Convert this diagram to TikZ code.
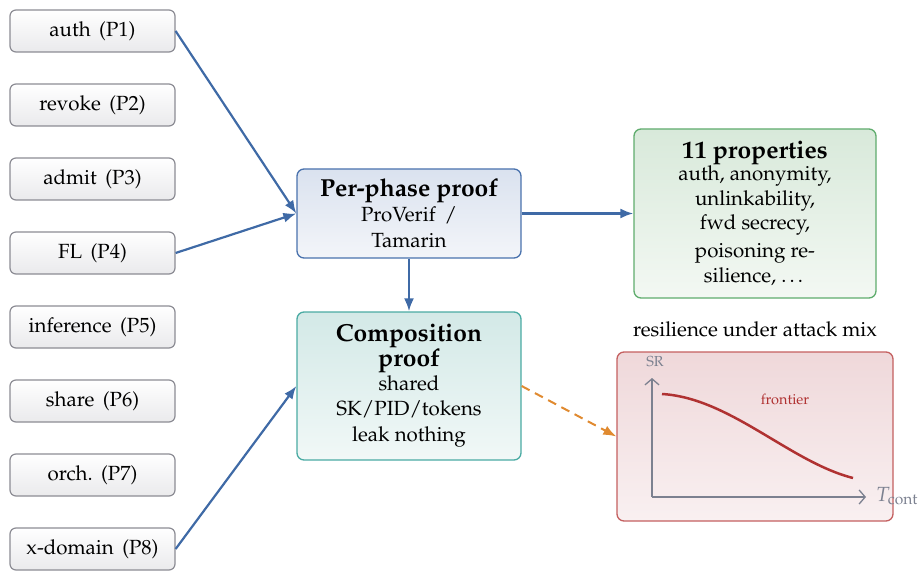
\documentclass[tikz,border=0pt]{standalone}
\usepackage[T1]{fontenc}
\usepackage{mathpazo}
\usetikzlibrary{arrows.meta}
\definecolor{arrblue}{HTML}{3F6AA6}
\definecolor{pgray}{HTML}{8C8C94}
\definecolor{pbot}{HTML}{EAEAEC}
\definecolor{bluedraw}{HTML}{4A72AD}
\definecolor{bluetop}{HTML}{DAE2EF}
\definecolor{bluebot}{HTML}{F3F5F9}
\definecolor{tealdraw}{HTML}{4AABA3}
\definecolor{tealtop}{HTML}{D3E9E7}
\definecolor{tealbot}{HTML}{F1F8F7}
\definecolor{greendraw}{HTML}{5FAC6D}
\definecolor{greentop}{HTML}{D8E9DA}
\definecolor{greenbot}{HTML}{F3F8F3}
\definecolor{reddraw}{HTML}{C46060}
\definecolor{redtop}{HTML}{EFD8DA}
\definecolor{redbot}{HTML}{F9F0F1}
\definecolor{curvered}{HTML}{B03232}
\definecolor{axisgray}{HTML}{7C8190}
\definecolor{dashorange}{HTML}{E08A30}
\newcommand{\normf}{\fontsize{20.5}{24.5}\selectfont}
\newcommand{\widef}{\fontsize{20.5}{24.5}\selectfont\spaceskip=8.5pt plus 2pt minus 1pt\relax}
\newcommand{\titlef}{\fontsize{24.6}{28}\selectfont\bfseries}
\newcommand{\smallf}{\fontsize{14.5}{17}\selectfont}
\begin{document}
\begin{tikzpicture}[x=1pt,y=-1pt,
  pbox/.style={draw=pgray, line width=1.2pt, rounded corners=6pt,
    top color=white, bottom color=pbot, minimum width=165pt, minimum height=42pt,
    inner sep=0pt, font=\widef},
  bigbox/.style={line width=1.3pt, rounded corners=7pt, align=center, inner sep=2pt, font=\normf},
  arr/.style={draw=arrblue, line width=2.2pt, -{Latex[length=13pt,width=10pt]}},
  dasharr/.style={draw=dashorange, line width=2pt, dash pattern=on 9pt off 6pt, -{Latex[length=13pt,width=10pt]}},
  axis/.style={draw=axisgray, line width=1.3pt, -{Straight Barb[length=6pt,width=14pt]}}
]
\useasboundingbox (0,0) rectangle (921,580);

\node[pbox] (p1) at (92.5,31) {auth (P1)};
\node[pbox] (p2) at (92.5,105) {revoke (P2)};
\node[pbox] (p3) at (92.5,179) {admit (P3)};
\node[pbox] (p4) at (92.5,253) {FL (P4)};
\node[pbox] (p5) at (92.5,327) {inference (P5)};
\node[pbox] (p6) at (92.5,401) {share (P6)};
\node[pbox] (p7) at (92.5,475) {orch.\ (P7)};
\node[pbox] (p8) at (92.5,549) {x-domain (P8)};

\node[bigbox, draw=bluedraw, top color=bluetop, bottom color=bluebot,
  minimum width=224pt, minimum height=89pt] (perphase) at (409,213.5)
  {{\titlef Per-phase proof}\\ProVerif\hspace{9pt}/\\[2pt]Tamarin};

\node[bigbox, draw=tealdraw, top color=tealtop, bottom color=tealbot,
  minimum width=224pt, minimum height=148pt] (compo) at (409,386)
  {{\titlef Composition}\\{\titlef proof}\\shared\\SK/PID/tokens\\[2pt]leak nothing};

\node[bigbox, draw=greendraw, top color=greentop, bottom color=greenbot,
  minimum width=242pt, minimum height=169pt] (props) at (755,213.5)
  {{\titlef 11 properties}\\[-2pt]auth, anonymity,\\unlinkability,\\fwd secrecy,\\[3pt]poisoning re-\\[1pt]silience, \dots};

\node[bigbox, draw=reddraw, top color=redtop, bottom color=redbot,
  minimum width=276pt, minimum height=169pt] (resil) at (755,436.5) {};
\node[font=\normf] (resillabel) at (755,329) {resilience under attack mix};

% plot
\coordinate (origin) at (652,497);
\coordinate (ytop) at (652,378);
\coordinate (xend) at (866,497);
\draw[axis] (origin) -- (ytop);
\draw[axis] (origin) -- (xend);
\node[font=\smallf, text=axisgray] (srlabel) at (655,362) {SR};
\node[font=\normf, text=axisgray, anchor=west, inner sep=0pt] (tlabel) at (876,496) {$T_{\mathrm{cont}}$};
\coordinate (cstart) at (662,394);
\coordinate (cend) at (853,478);
\draw[curvered, line width=2.5pt] (cstart) .. controls (730,398) and (790,462) .. (cend);
\node[font=\smallf, text=curvered] (frontier) at (785,399) {frontier};

% connectors
\draw[arr] (p1.east) -- (perphase.west);
\draw[arr] (p4.east) -- (perphase.west);
\draw[arr] (p8.east) -- (compo.west);
\draw[arr] (perphase.south) -- (compo.north);
\draw[arr] (perphase.east) -- (props.west);
\draw[dasharr] (compo.east) -- (resil.west);
\end{tikzpicture}
\end{document}
